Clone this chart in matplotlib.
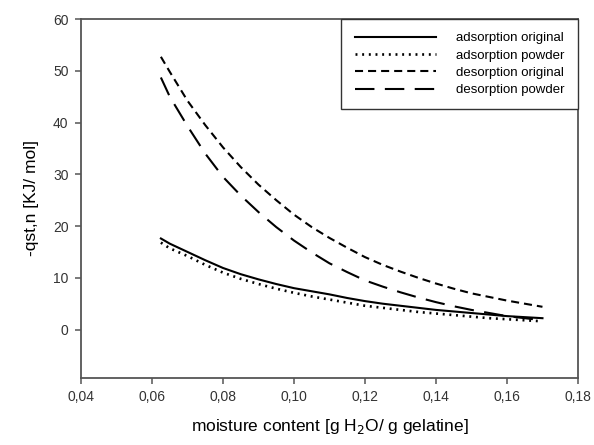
import numpy as np
import matplotlib
matplotlib.use("Agg")
import matplotlib.pyplot as plt

plt.rcParams['font.family'] = ['Liberation Sans', 'DejaVu Sans']
plt.rcParams['lines.scale_dashes'] = False

# moisture content [g H2O / g gelatine]
moisture = [0.0625, 0.065, 0.07, 0.075, 0.08, 0.085, 0.09, 0.095, 0.10, 0.105,
            0.11, 0.115, 0.12, 0.125, 0.13, 0.135, 0.14, 0.145, 0.15, 0.155,
            0.16, 0.165, 0.17]

# -qst,n [KJ/mol]
ads_original = [17.6, 16.6, 15.0, 13.4, 11.9, 10.7, 9.7, 8.8, 8.0, 7.4, 6.8, 6.1,
                5.5, 5.0, 4.6, 4.2, 3.8, 3.5, 3.2, 2.9, 2.6, 2.4, 2.2]
ads_powder = [16.8, 15.7, 14.2, 12.5, 11.0, 9.8, 8.8, 7.9, 7.1, 6.4, 5.8, 5.2,
              4.6, 4.2, 3.8, 3.4, 3.1, 2.8, 2.5, 2.2, 2.0, 1.8, 1.6]
des_original = [52.7, 49.8, 44.2, 39.5, 35.2, 31.4, 28.0, 25.0, 22.2, 19.8, 17.7,
                15.8, 14.0, 12.5, 11.2, 10.0, 8.9, 7.9, 7.0, 6.3, 5.6, 5.0, 4.4]
des_powder = [48.7, 45.0, 39.3, 34.0, 29.5, 25.9, 22.7, 19.8, 17.2, 14.9, 12.8,
              11.1, 9.5, 8.3, 7.2, 6.2, 5.3, 4.5, 3.8, 3.2, 2.6, 2.2, 1.8]

x_ticks = [0.04, 0.06, 0.08, 0.10, 0.12, 0.14, 0.16, 0.18]
y_ticks = [0, 10, 20, 30, 40, 50, 60]

fig = plt.figure(figsize=(5.94, 4.45), dpi=100)
ax = fig.add_axes([0.1364, 0.1512, 0.8366, 0.8061])

lw = 1.5
ax.plot(moisture, ads_original, color='black', lw=lw, label='adsorption original')
ax.plot(moisture, ads_powder, color='black', lw=lw + 0.4, dashes=(1.4, 3.4),
        label='adsorption powder')
ax.plot(moisture, des_original, color='black', lw=lw, dashes=(5.8, 3.6),
        label='desorption original')
ax.plot(moisture, des_powder, color='black', lw=lw, dashes=(14, 7.5),
        label='desorption powder')

ax.set_xlim(0.04, 0.18)
ax.set_ylim(-9.3, 60)
ax.set_xticks(x_ticks)
ax.set_xticklabels([f"{v:.2f}".replace('.', ',') for v in x_ticks])
ax.set_yticks(y_ticks)

spine_col = '#555555'
for s in ax.spines.values():
    s.set_color(spine_col)
    s.set_linewidth(1.3)
ax.tick_params(direction='out', length=4, width=1.1, color=spine_col,
               labelsize=10, labelcolor='#333333', pad=5)

ax.set_xlabel('moisture content [g H$_2$O/ g gelatine]', fontsize=12.5, labelpad=9)
ax.set_ylabel('-qst,n [KJ/ mol]', fontsize=12.5, labelpad=10)

leg = ax.legend(loc='upper right', borderaxespad=0, fancybox=False,
                fontsize=9.5, handlelength=6.2, handletextpad=1.5,
                labelspacing=0.38, borderpad=1.0, framealpha=1)
leg.get_frame().set_edgecolor('#333333')
leg.get_frame().set_linewidth(1.0)

fig.savefig('out.png', dpi=100)
